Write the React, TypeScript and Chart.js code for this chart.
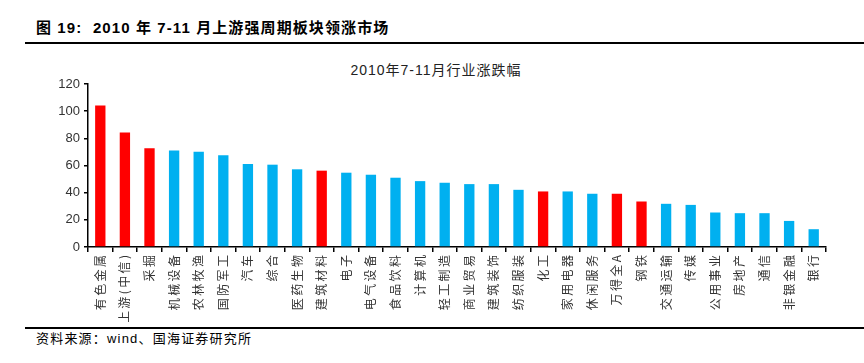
import React, { useEffect, useRef } from "react";
import { Chart, registerables } from "chart.js";

Chart.register(...registerables);

const categories: string[] = [
  "有色金属", "上游(中信)", "采掘", "机械设备", "农林牧渔", "国防军工", "汽车", "综合", "医药生物", "建筑材料",
  "电子", "电气设备", "食品饮料", "计算机", "轻工制造", "商业贸易", "建筑装饰", "纺织服装", "化工", "家用电器",
  "休闲服务", "万得全A", "钢铁", "交通运输", "传媒", "公用事业", "房地产", "通信", "非银金融", "银行",
];

const values: number[] = [
  104.2, 84.3, 72.7, 71.0, 70.2, 67.5, 61.1, 60.6, 57.2, 56.2,
  54.7, 53.2, 51.0, 48.5, 47.3, 46.3, 46.3, 42.1, 40.9, 40.9,
  39.2, 39.2, 33.5, 31.8, 31.0, 25.4, 24.9, 24.9, 19.2, 13.1,
];

const highlighted: string[] = ["有色金属", "上游(中信)", "采掘", "建筑材料", "化工", "万得全A", "钢铁"];

const figureTitle = "图 19:  2010 年 7-11 月上游强周期板块领涨市场";
const chartTitle = "2010年7-11月行业涨跌幅";
const sourceText = "资料来源：wind、国海证券研究所";

const RED = "#FF0000";
const BLUE = "#00B0F0";

const spaced = (s: string) => Array.from(s).join("\u2009");

export default function App() {
  const canvasRef = useRef<HTMLCanvasElement | null>(null);

  useEffect(() => {
    document.body.style.margin = "0";
    const canvas = canvasRef.current;
    if (!canvas) return;
    const chart = new Chart(canvas, {
      type: "bar",
      data: {
        labels: categories.map(spaced),
        datasets: [
          {
            data: values,
            backgroundColor: categories.map((c) => (highlighted.includes(c) ? RED : BLUE)),
            barPercentage: 0.42,
            categoryPercentage: 1,
          },
        ],
      },
      options: {
        animation: false,
        responsive: false,
        maintainAspectRatio: false,
        layout: { padding: { left: 0, right: 38, top: 34, bottom: 0 } },
        plugins: {
          legend: { display: false },
          tooltip: { enabled: false },
          title: { display: false },
        },
        scales: {
          x: {
            offset: true,
            border: { display: true, color: "#000", width: 1.5 },
            grid: {
              offset: true,
              display: true,
              drawOnChartArea: false,
              drawTicks: true,
              tickLength: 5,
              color: "#000",
              lineWidth: 1.5,
            },
            ticks: {
              autoSkip: false,
              maxRotation: 90,
              minRotation: 90,
              padding: 3,
              color: "#333",
              font: { family: "'Noto Sans CJK SC'", size: 12 },
            },
            afterFit: (scale: any) => {
              scale.height = 75;
            },
          },
          y: {
            min: 0,
            max: 120,
            border: { display: true, color: "#000", width: 1.5 },
            grid: {
              display: true,
              drawOnChartArea: false,
              drawTicks: true,
              tickLength: 4,
              color: "#000",
              lineWidth: 1.5,
            },
            ticks: {
              stepSize: 20,
              padding: 4,
              color: "#333",
              font: { family: "'Liberation Sans', Arial", size: 13 },
            },
            afterFit: (scale: any) => {
              scale.width = 88;
            },
          },
        },
      },
    });
    return () => chart.destroy();
  }, []);

  return (
    <div style={{ position: "relative", width: 864, height: 363, background: "#fff", overflow: "hidden" }}>
      <div
        style={{
          position: "absolute",
          left: 36,
          top: 19,
          fontFamily: "'Liberation Sans', 'Noto Sans CJK SC'",
          fontWeight: "bold",
          fontSize: 15,
          letterSpacing: "1.1px",
          color: "#000",
          whiteSpace: "pre",
          lineHeight: "18px",
        }}
      >
        {figureTitle}
      </div>
      <div style={{ position: "absolute", left: 25, top: 42, width: 839, height: 2, background: "#000" }} />
      <div
        style={{
          position: "absolute",
          left: 236,
          width: 400,
          top: 61,
          textAlign: "center",
          fontFamily: "'Liberation Sans', 'Noto Sans CJK SC'",
          fontSize: 14,
          letterSpacing: "1px",
          color: "#222",
          whiteSpace: "pre",
          lineHeight: "18px",
        }}
      >
        {chartTitle}
      </div>
      <canvas
        ref={canvasRef}
        width={864}
        height={272}
        style={{ position: "absolute", left: 0, top: 50, width: 864, height: 272 }}
      />
      <div style={{ position: "absolute", left: 25, top: 327, width: 839, height: 2, background: "#000" }} />
      <div
        style={{
          position: "absolute",
          left: 36,
          top: 330,
          fontFamily: "'Liberation Sans', 'Noto Sans CJK SC'",
          fontSize: 13,
          letterSpacing: "1.2px",
          color: "#000",
          whiteSpace: "pre",
          lineHeight: "17px",
        }}
      >
        {sourceText}
      </div>
    </div>
  );
}
